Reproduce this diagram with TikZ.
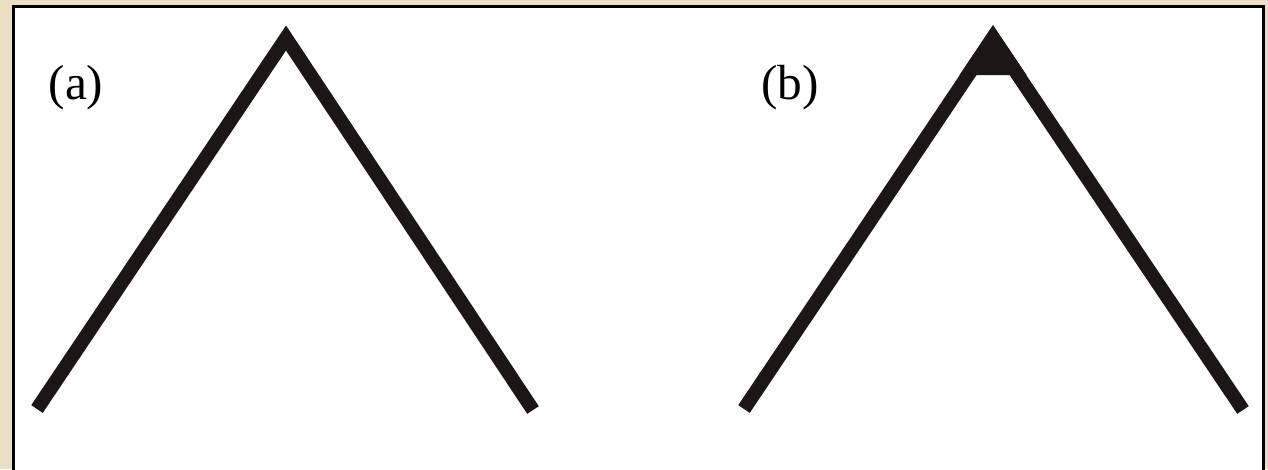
\documentclass[tikz,border=0pt]{standalone}
\usepackage{fontspec}
\setmainfont{Liberation Serif}
\usepackage{tikz}
\usetikzlibrary{calc, positioning}
\definecolor{Parchment}{RGB}{234,224,196}
\definecolor{Ink}{RGB}{28,22,22}

\begin{document}
\begin{tikzpicture}[x=0.75pt, y=-0.75pt]

\tikzset{
  chevron/.style={
    draw=Ink,
    line width=10.4pt,
    line cap=butt,
    line join=miter
  },
  panel label/.style={
    inner sep=0pt,
    font=\fontsize{37}{40}\selectfont
  }
}

% frame
\fill[Parchment] (0,0) rectangle (1268,469);
\useasboundingbox (0,0) rectangle (1268,469);
\filldraw[fill=white, draw=black, line width=2.4pt] (13.5,6.5) rectangle (1263.8,480);

% (a): mitred apex
\coordinate (a-l) at (37,409);
\coordinate (a-t) at (286,38);
\coordinate (a-r) at (533,410);
\draw[chevron] (a-l) -- (a-t) -- (a-r);
\node[panel label] (la) at (76,88) {(a)};

% (b): filled apex
\coordinate (b-l) at (744,409);
\coordinate (b-t) at (993,38);
\coordinate (b-r) at (1243,410);
\draw[chevron] (b-l) -- (b-t) -- (b-r);
\fill[Ink] (993,25) -- (959.5,75) -- (1026.5,75) -- cycle;
\node[panel label] (lb) at (790,88) {(b)};

\end{tikzpicture}
\end{document}
